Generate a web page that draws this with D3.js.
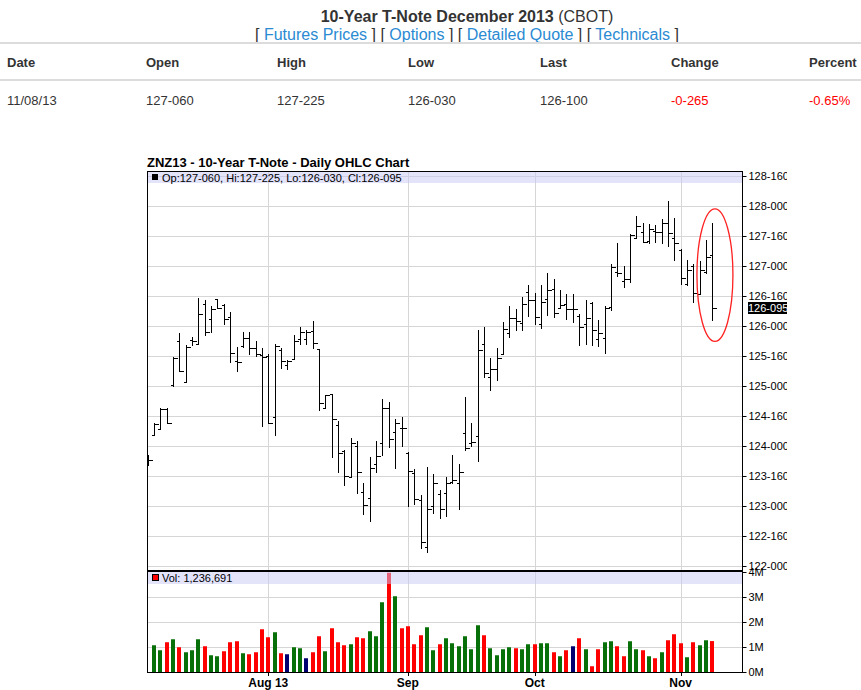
<!DOCTYPE html>
<html><head><meta charset="utf-8">
<script src="https://cdn.jsdelivr.net/npm/d3@7"></script>
<style>
body{margin:0;background:#fff;}
svg{display:block;font-family:"Liberation Sans",Arial,Helvetica,sans-serif;}
</style>
</head><body>
<svg id="chart" width="861" height="690"></svg>
<script>
// ---------------- DATA ----------------
const pageTitle = "10-Year T-Note December 2013";
const pageExchange = " (CBOT)";
const navLinks = ["Futures Prices", "Options", "Detailed Quote", "Technicals"];
const tableHeaders = ["Date", "Open", "High", "Low", "Last", "Change", "Percent"];
const tableRow = ["11/08/13", "127-060", "127-225", "126-030", "126-100", "-0-265", "-0.65%"];
const tableRowNegative = [false, false, false, false, false, true, true];
const chartTitle = "ZNZ13 - 10-Year T-Note - Daily OHLC Chart";

const dates = [
"2013-07-05","2013-07-08","2013-07-09","2013-07-10","2013-07-11","2013-07-12",
"2013-07-15","2013-07-16","2013-07-17","2013-07-18","2013-07-19",
"2013-07-22","2013-07-23","2013-07-24","2013-07-25","2013-07-26",
"2013-07-29","2013-07-30","2013-07-31","2013-08-01","2013-08-02",
"2013-08-05","2013-08-06","2013-08-07","2013-08-08","2013-08-09",
"2013-08-12","2013-08-13","2013-08-14","2013-08-15","2013-08-16",
"2013-08-19","2013-08-20","2013-08-21","2013-08-22","2013-08-23",
"2013-08-26","2013-08-27","2013-08-28","2013-08-29","2013-08-30",
"2013-09-03","2013-09-04","2013-09-05","2013-09-06",
"2013-09-09","2013-09-10","2013-09-11","2013-09-12","2013-09-13",
"2013-09-16","2013-09-17","2013-09-18","2013-09-19","2013-09-20",
"2013-09-23","2013-09-24","2013-09-25","2013-09-26","2013-09-27",
"2013-09-30","2013-10-01","2013-10-02","2013-10-03","2013-10-04",
"2013-10-07","2013-10-08","2013-10-09","2013-10-10","2013-10-11",
"2013-10-14","2013-10-15","2013-10-16","2013-10-17","2013-10-18",
"2013-10-21","2013-10-22","2013-10-23","2013-10-24","2013-10-25",
"2013-10-28","2013-10-29","2013-10-30","2013-10-31","2013-11-01",
"2013-11-04","2013-11-05","2013-11-06","2013-11-07","2013-11-08"];

const open = [
123.733,124.19,124.28,124.61,125.01,125.745,125.062,125.767,125.695,126.362,126.112,
126.45,126.355,126.155,125.42,125.667,125.805,125.628,125.517,125.50,124.478,
125.60,125.345,125.45,125.778,125.78,125.917,125.61,124.638,124.86,124.35,
123.922,123.49,124.0,123.228,123.133,123.695,124.05,124.628,124.233,124.305,
123.878,123.55,123.108,122.322,123.0,123.195,123.217,123.40,123.378,
124.212,124.045,124.167,125.70,125.145,125.283,125.533,125.878,126.128,126.05,
126.562,126.433,126.033,126.45,126.617,126.305,126.362,126.278,126.172,126.033,
126.378,125.783,125.795,126.322,126.905,126.75,126.778,127.472,127.562,127.422,
127.583,127.562,127.712,127.472,127.267,126.695,127.0,126.533,126.905,127.1875];

const high = [
123.85,124.38,124.63,124.63,125.48,125.867,125.672,125.805,126.462,126.422,126.322,
126.45,126.355,126.217,125.65,125.895,125.895,125.745,125.628,125.517,125.695,
125.628,125.433,125.838,125.972,125.933,126.083,125.612,124.85,124.862,124.405,
123.933,124.128,124.083,123.378,123.812,124.072,124.767,124.733,124.445,124.478,
123.888,123.612,123.167,123.65,123.517,123.255,123.483,123.85,123.70,
124.805,124.378,125.917,125.978,125.462,125.628,126.062,126.333,126.267,126.483,
126.683,126.545,126.672,126.878,126.767,126.60,126.517,126.517,126.195,126.417,
126.395,126.10,126.322,127.017,127.378,126.988,127.528,127.822,127.712,127.695,
127.683,127.767,128.083,127.795,127.267,127.088,127.017,127.072,127.433,127.703125];

const low = [
123.683,124.18,124.27,124.37,125.00,125.24,125.055,125.678,125.69,125.838,125.89,
126.295,126.017,125.395,125.238,125.65,125.533,125.488,124.322,124.378,124.172,
125.295,125.283,125.44,125.695,125.70,125.628,124.588,124.628,123.805,123.555,
123.338,123.488,123.212,122.862,122.738,123.562,123.838,123.978,123.622,124.0,
122.988,123.017,122.295,122.222,122.878,122.795,122.833,123.378,122.945,
123.933,123.988,123.738,125.145,124.922,125.10,125.517,125.812,125.922,125.917,
126.155,126.017,125.962,126.167,126.138,126.295,126.112,126.062,125.667,125.70,
125.667,125.655,125.545,126.255,126.833,126.638,126.722,127.465,127.395,127.378,
127.395,127.378,127.322,127.088,126.70,126.667,126.388,126.517,126.878,126.09375];

const close = [
123.767,124.37,124.62,124.38,125.47,125.25,125.655,125.75,126.195,125.895,126.278,
126.308,126.122,125.545,125.40,125.805,125.628,125.525,125.483,124.39,125.667,
125.422,125.422,125.75,125.895,125.895,125.722,124.712,124.85,124.445,123.878,
123.50,124.055,123.562,123.012,123.628,123.838,124.628,124.112,124.378,124.295,
123.575,123.117,122.405,122.945,123.388,122.945,123.388,123.433,123.572,
123.962,124.067,125.60,125.212,125.283,125.462,125.95,126.133,126.083,126.367,
126.433,126.145,126.395,126.60,126.212,126.35,126.278,126.278,125.988,126.128,
125.933,125.888,126.305,126.978,126.883,126.778,127.52,127.672,127.405,127.617,
127.562,127.712,127.545,127.378,126.795,126.933,126.545,126.933,127.145,126.296875];

// volume in millions (no volume bar shown for the partial first bar)
const volume = [
null,1.07,0.87,1.19,1.31,0.99,0.79,0.87,1.31,1.03,0.67,
0.63,0.83,1.19,1.23,0.75,0.71,0.79,1.71,1.39,1.59,
0.75,0.71,0.99,0.95,0.55,0.79,1.43,0.83,1.75,1.19,
1.07,1.11,1.39,1.35,1.63,1.43,2.79,3.97,3.03,1.75,
1.83,1.11,1.47,1.79,0.87,1.11,1.35,1.15,1.03,
1.43,0.91,1.87,1.47,0.95,0.67,0.91,0.99,0.95,0.91,
1.11,1.11,1.15,1.15,0.79,0.63,0.87,1.03,1.35,0.91,
0.23,0.91,1.19,1.23,1.03,0.63,1.23,0.91,0.87,0.63,
0.55,0.79,1.27,1.51,1.15,0.59,1.19,1.07,1.27,1.236691];
const lastVolume = 1236691;

const priceTicks = [122,122.5,123,123.5,124,124.5,125,125.5,126,126.5,127,127.5,128,128.5];
const volumeTicks = [0,1,2,3,4];
const volumeTickLabels = ["0M","1M","2M","3M","4M"];
const monthTickDates = ["2013-08-01","2013-09-03","2013-10-01","2013-11-01"];
const monthTickLabels = ["Aug 13","Sep","Oct","Nov"];

// ---------------- LAYOUT ----------------
const L = 147, R = 742, PT = 171, PB = 570, VT = 572, VB = 672, CLIPR = 787;
const svg = d3.select("#chart");
const n = dates.length;

const x = d3.scaleLinear().domain([-0.11, 93.66]).range([L, R]);
const yP = d3.scaleLinear().domain([122, 128.5]).range([566, 176]);
const yV = d3.scaleLinear().domain([0, 4]).range([VB, VT]);

const fmt32 = p => {
  const i = Math.floor(p + 1e-9);
  const f = Math.round((p - i) * 320);
  return i + "-" + String(f).padStart(3, "0");
};

// ---------------- PAGE HEADER ----------------
const cx = 467;
const t = svg.append("text").attr("x", cx).attr("y", 22).attr("text-anchor", "middle")
  .attr("font-size", 16).attr("fill", "#333");
t.append("tspan").attr("font-weight", "bold").text(pageTitle);
t.append("tspan").text(pageExchange);

const nav = svg.append("text").attr("x", cx).attr("y", 40).attr("text-anchor", "middle")
  .attr("font-size", 16).attr("fill", "#333");
navLinks.forEach((s, i) => {
  nav.append("tspan").text((i ? " [ " : "[ "));
  nav.append("tspan").attr("fill", "#2a8ad2").text(s);
  nav.append("tspan").text(" ]");
});

svg.append("rect").attr("x", 0).attr("y", 42).attr("width", 861).attr("height", 2).attr("fill", "#dcdcdc");
svg.append("rect").attr("x", 0).attr("y", 79).attr("width", 861).attr("height", 2).attr("fill", "#dcdcdc");

const colX = [7, 146, 277, 408, 540, 671, 809];
svg.append("g").selectAll("text").data(tableHeaders).join("text")
  .attr("x", (d, i) => colX[i]).attr("y", 67).attr("font-size", 13).attr("font-weight", "bold")
  .attr("fill", "#333").text(d => d);
svg.append("g").selectAll("text").data(tableRow).join("text")
  .attr("x", (d, i) => colX[i]).attr("y", 105).attr("font-size", 13)
  .attr("fill", (d, i) => tableRowNegative[i] ? "#ff0000" : "#333").text(d => d);

// ---------------- CHART ----------------
svg.append("text").attr("x", L).attr("y", 167).attr("font-size", 13).attr("font-weight", "bold")
  .attr("fill", "#000").text(chartTitle);

const defs = svg.append("defs");
defs.append("clipPath").attr("id", "cp").append("rect").attr("x", L).attr("y", PT).attr("width", R - L).attr("height", PB - PT);
defs.append("clipPath").attr("id", "cv").append("rect").attr("x", L).attr("y", VT).attr("width", R - L).attr("height", VB - VT);
defs.append("clipPath").attr("id", "cr").append("rect").attr("x", 0).attr("y", 0).attr("width", CLIPR).attr("height", 690);

const grid = "#d6d6d6";
const monthIdx = monthTickDates.map(d => dates.indexOf(d));
const px = v => Math.round(v) + 0.5;

// price gridlines
svg.append("g").selectAll("line").data(priceTicks).join("line")
  .attr("x1", L).attr("x2", R).attr("y1", d => px(yP(d))).attr("y2", d => px(yP(d)))
  .attr("stroke", grid);
// volume gridlines
svg.append("g").selectAll("line").data(volumeTicks.filter(v => v > 0 && v < 4)).join("line")
  .attr("x1", L).attr("x2", R).attr("y1", d => px(yV(d))).attr("y2", d => px(yV(d)))
  .attr("stroke", grid);
// month gridlines
svg.append("g").selectAll("line").data(monthIdx).join("line")
  .attr("x1", d => px(x(d))).attr("x2", d => px(x(d))).attr("y1", PT).attr("y2", VB)
  .attr("stroke", grid);

// OHLC bars
const bars = svg.append("g").attr("clip-path", "url(#cp)").attr("stroke", "#000")
  .attr("stroke-width", 1).attr("shape-rendering", "crispEdges");
d3.range(n).forEach(i => {
  const xi = px(x(i));
  bars.append("line").attr("x1", xi).attr("x2", xi).attr("y1", yP(high[i]) - 0.5).attr("y2", yP(low[i]) + 0.5);
  bars.append("line").attr("x1", xi - 3).attr("x2", xi).attr("y1", px(yP(open[i]))).attr("y2", px(yP(open[i])));
  bars.append("line").attr("x1", xi).attr("x2", xi + 4).attr("y1", px(yP(close[i]))).attr("y2", px(yP(close[i])));
});

// volume bars, coloured by close vs previous close
const volColor = i => {
  if (i === 0) return "#087008";
  if (close[i] > close[i - 1]) return "#087008";
  if (close[i] < close[i - 1]) return "#ff0000";
  return "#000070";
};
svg.append("g").attr("clip-path", "url(#cv)").selectAll("rect")
  .data(d3.range(n).filter(i => volume[i] != null)).join("rect")
  .attr("x", i => Math.round(x(i)) - 2).attr("width", 4)
  .attr("y", i => yV(volume[i])).attr("height", i => yV(0) - yV(volume[i]))
  .attr("fill", volColor);

// header bands
svg.append("rect").attr("x", L + 1).attr("y", 172).attr("width", R - L - 1).attr("height", 11)
  .attr("fill", "rgb(200,200,245)").attr("fill-opacity", 0.5);
svg.append("rect").attr("x", L + 1).attr("y", 572).attr("width", R - L - 1).attr("height", 12)
  .attr("fill", "rgb(200,200,245)").attr("fill-opacity", 0.5);

// header texts
svg.append("rect").attr("x", 152).attr("y", 174).attr("width", 6).attr("height", 6).attr("fill", "#000");
svg.append("text").attr("x", 162).attr("y", 182).attr("font-size", 11).attr("fill", "#000")
  .text("Op:" + fmt32(open[n - 1]) + ", Hi:" + fmt32(high[n - 1]) + ", Lo:" + fmt32(low[n - 1]) + ", Cl:" + fmt32(close[n - 1]));
svg.append("rect").attr("x", 152.5).attr("y", 574.5).attr("width", 6).attr("height", 6)
  .attr("fill", "#ff0000").attr("stroke", "#000");
svg.append("text").attr("x", 162).attr("y", 582).attr("font-size", 11).attr("fill", "#000")
  .text("Vol: " + d3.format(",")(lastVolume));

// frame
const frame = svg.append("g").attr("stroke", "#000").attr("shape-rendering", "crispEdges");
frame.append("line").attr("x1", L + 0.5).attr("x2", L + 0.5).attr("y1", PT).attr("y2", VB + 1);
frame.append("line").attr("x1", L).attr("x2", R).attr("y1", PT + 0.5).attr("y2", PT + 0.5);
frame.append("line").attr("x1", R + 0.5).attr("x2", R + 0.5).attr("y1", PT).attr("y2", VB + 1);
frame.append("line").attr("x1", L).attr("x2", R + 1).attr("y1", PB + 1).attr("y2", PB + 1).attr("stroke-width", 2);
frame.append("line").attr("x1", L).attr("x2", R + 1).attr("y1", VB + 0.5).attr("y2", VB + 0.5);

// right axes (clipped at image edge)
const ax = svg.append("g").attr("clip-path", "url(#cr)");
const priceAxis = d3.axisRight(yP).tickValues(priceTicks).tickFormat(fmt32).tickSize(4).tickPadding(2);
ax.append("g").attr("transform", `translate(${R + 0.5},0)`).call(priceAxis)
  .call(g => g.select(".domain").remove())
  .call(g => g.selectAll("text").attr("font-size", 11).attr("font-family", '"Liberation Sans",Arial,sans-serif').attr("fill", "#000"));
const volAxis = d3.axisRight(yV).tickValues(volumeTicks).tickFormat((d, i) => volumeTickLabels[i]).tickSize(4).tickPadding(2);
ax.append("g").attr("transform", `translate(${R + 0.5},0)`).call(volAxis)
  .call(g => g.select(".domain").remove())
  .call(g => g.selectAll("text").attr("font-size", 11).attr("font-family", '"Liberation Sans",Arial,sans-serif').attr("fill", "#000"));

// last price marker
const lastY = yP(close[n - 1]);
ax.append("rect").attr("x", R + 6).attr("y", Math.round(lastY) - 6).attr("width", 50).attr("height", 12).attr("fill", "#000");
ax.append("text").attr("x", R + 6).attr("y", Math.round(lastY) + 4).attr("font-size", 11).attr("fill", "#fff")
  .text(fmt32(close[n - 1]));

// bottom month axis
const xAxisG = svg.append("g");
xAxisG.selectAll("line").data(monthIdx).join("line")
  .attr("x1", d => px(x(d))).attr("x2", d => px(x(d))).attr("y1", VB).attr("y2", VB + 4)
  .attr("stroke", "#000");
xAxisG.selectAll("text").data(monthIdx).join("text")
  .attr("x", d => x(d)).attr("y", 687).attr("text-anchor", "middle").attr("font-size", 12)
  .attr("font-weight", "bold").attr("fill", "#000").text((d, i) => monthTickLabels[i]);

// red annotation ellipse around the last bar
const li = n - 1;
svg.append("ellipse")
  .attr("cx", x(li) + 2.5)
  .attr("cy", (yP(high[li]) + yP(low[li])) / 2 + 3)
  .attr("rx", 18)
  .attr("ry", (yP(low[li]) - yP(high[li])) / 2 + 18)
  .attr("fill", "none").attr("stroke", "#ff2020").attr("stroke-width", 1.3);
</script>
</body></html>
